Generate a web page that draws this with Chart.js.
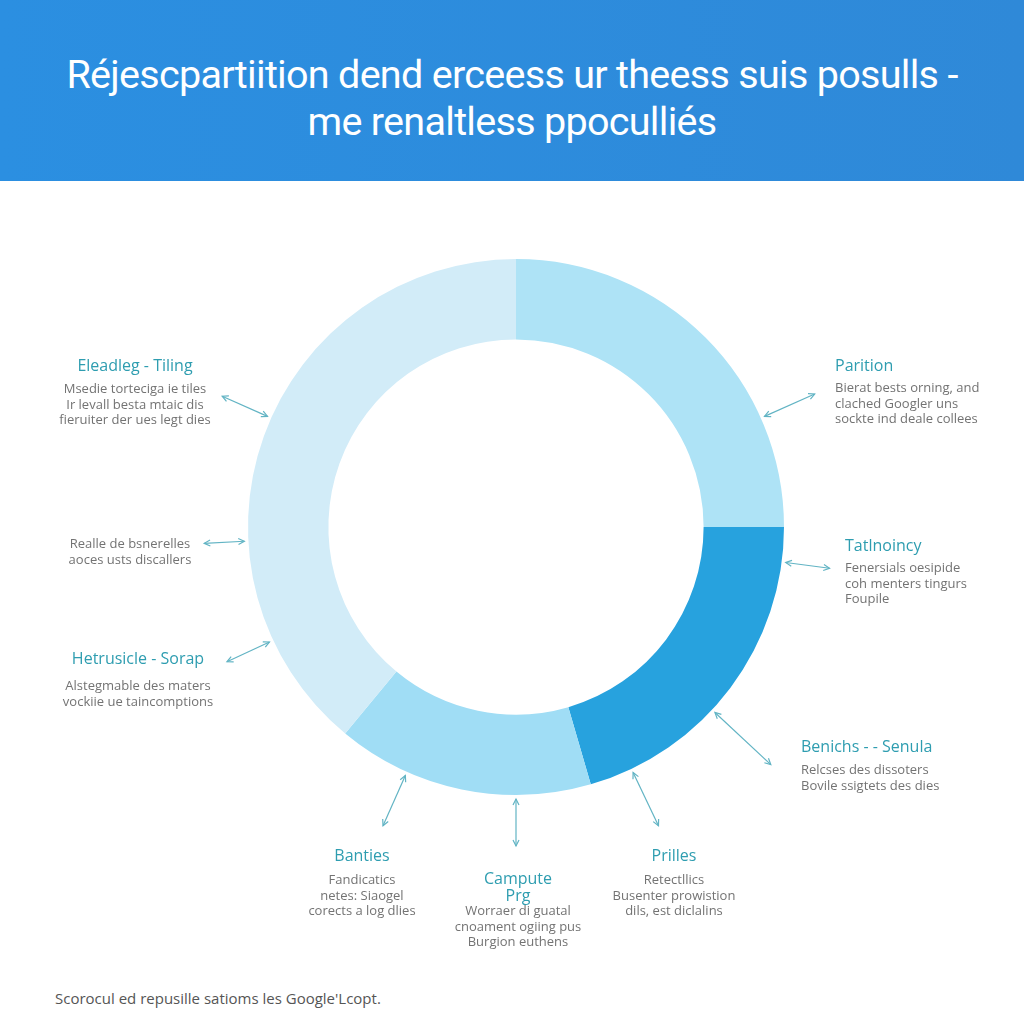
<!DOCTYPE html>
<html>
<head>
<meta charset="utf-8">
<script src="https://cdn.jsdelivr.net/npm/chart.js@4.4.1/dist/chart.umd.min.js"></script>
<style>
  html, body { margin: 0; padding: 0; background: #ffffff; }
  body { width: 1024px; height: 1024px; position: relative; overflow: hidden; font-family: "Open Sans", sans-serif; }
  .header {
    position: absolute; left: 0; top: 0; width: 1024px; height: 181px;
    background: linear-gradient(90deg, #2b8fe1, #2f89d8);
  }
  .header .line {
    position: absolute; left: 0; width: 1024px; text-align: center;
    color: #ffffff; font-family: Roboto, sans-serif; font-size: 39.5px; line-height: 46px;
    letter-spacing: -0.7px;
  }
  #wrap { position: absolute; left: 146px; top: 157px; width: 740px; height: 740px; }
  .note-title { position: absolute; color: #2e9db0; font-size: 16px; line-height: 17px; white-space: nowrap; }
  .note-desc { position: absolute; color: #737373; font-size: 13px; line-height: 15.5px; white-space: nowrap; }
  .center { text-align: center; width: 300px; }
  .footer { position: absolute; left: 55px; top: 988px; color: #555; font-size: 15px; line-height: 20px; }
</style>
</head>
<body>
<div class="header">
  <div class="line" style="top:52px">Réjescpartiition dend erceess ur theess suis posulls -</div>
  <div class="line" style="top:99px">me renaltless ppoculliés</div>
</div>
<div id="wrap"><canvas id="donut"></canvas></div>
<div id="notes"></div>
<div class="footer">Scorocul ed repusille satioms les Google'Lcopt.</div>

<script>
  // ── Donut data ──
  const segLabels = ["Parition", "Tatlnoincy", "Campute Prg", "Eleadleg - Tiling"];
  const segValues = [25, 20.5, 15.5, 39];
  const segColors = ["#aee3f6", "#27a2de", "#a0ddf5", "#d2ecf8"];

  // ── Annotation texts ──
  const noteTitles = [
    ["Eleadleg - Tiling"],
    [],
    ["Hetrusicle - Sorap"],
    ["Parition"],
    ["Tatlnoincy"],
    ["Benichs - - Senula"],
    ["Banties"],
    ["Campute", "Prg"],
    ["Prilles"],
  ];
  const noteLines = [
    ["Msedie torteciga ie tiles", "Ir levall besta mtaic dis", "fieruiter der ues legt dies"],
    ["Realle de bsnerelles", "aoces usts discallers"],
    ["Alstegmable des maters", "vockiie ue taincomptions"],
    ["Bierat bests orning, and", "clached Googler uns", "sockte ind deale collees"],
    ["Fenersials oesipide", "coh menters tingurs", "Foupile"],
    ["Relcses des dissoters", "Bovile ssigtets des dies"],
    ["Fandicatics", "netes: Siaogel", "corects a log dlies"],
    ["Worraer di guatal", "cnoament ogiing pus", "Burgion euthens"],
    ["Retectllics", "Busenter prowistion", "dils, est diclalins"],
  ];
  // arrow direction (deg clockwise from top) and outer reach as a share of the ring radius
  const arrowAngles = [294, 267, 245, 66, 97.5, 133, 204, 180, 154.5];
  const arrowReach = [1.2, 1.165, 1.19, 1.22, 1.18, 1.3, 1.22, 1.19, 1.235];

  // layout of the text blocks: [x, title centre y, first desc line centre y, align]
  const noteLayout = [
    [135, 365, 389, "center"],
    [130, 0, 544, "center"],
    [138, 658, 686, "center"],
    [835, 365, 388, "left"],
    [845, 545, 568, "left"],
    [801, 746, 770, "left"],
    [362, 855, 880, "center"],
    [518, 878, 911, "center"],
    [674, 855, 880, "center"],
  ];

  const notes = document.getElementById("notes");
  noteLayout.forEach(([x, ty, dy, align], i) => {
    const cls = align === "center" ? " center" : "";
    const left = align === "center" ? x - 150 : x;
    if (noteTitles[i].length) {
      const t = document.createElement("div");
      t.className = "note-title" + cls;
      t.style.left = left + "px";
      t.style.top = ty - 8.5 + "px";
      t.innerHTML = noteTitles[i].join("<br>");
      notes.appendChild(t);
    }
    const d = document.createElement("div");
    d.className = "note-desc" + cls;
    d.style.left = left + "px";
    d.style.top = dy - 7.75 + "px";
    d.innerHTML = noteLines[i].join("<br>");
    notes.appendChild(d);
  });

  // double-headed leader arrows around the ring
  const arrowPlugin = {
    id: "leaders",
    afterDraw(chart) {
      const arc = chart.getDatasetMeta(0).data[0];
      const { x: cx, y: cy, outerRadius: R } = arc;
      const ctx = chart.ctx;
      ctx.save();
      ctx.strokeStyle = "#62b4c4";
      ctx.lineWidth = 1.2;
      arrowAngles.forEach((deg, i) => {
        const a = (deg * Math.PI) / 180;
        const ux = Math.sin(a), uy = -Math.cos(a);
        const r1 = R * 1.015, r2 = R * arrowReach[i];
        const x1 = cx + ux * r1, y1 = cy + uy * r1;
        const x2 = cx + ux * r2, y2 = cy + uy * r2;
        ctx.beginPath();
        ctx.moveTo(x1, y1);
        ctx.lineTo(x2, y2);
        ctx.stroke();
        [[x1, y1, 1], [x2, y2, -1]].forEach(([px, py, s]) => {
          const bx = ux * s, by = uy * s; // back along the shaft from the tip
          const h = 6, w = 3;
          ctx.beginPath();
          ctx.moveTo(px + bx * h - by * w, py + by * h + bx * w);
          ctx.lineTo(px, py);
          ctx.lineTo(px + bx * h + by * w, py + by * h - bx * w);
          ctx.stroke();
        });
      });
      ctx.restore();
    },
  };

  new Chart(document.getElementById("donut"), {
    type: "doughnut",
    data: {
      labels: segLabels,
      datasets: [
        {
          data: segValues,
          backgroundColor: segColors,
          borderWidth: 0,
          hoverOffset: 0,
        },
      ],
    },
    options: {
      responsive: true,
      maintainAspectRatio: false,
      animation: false,
      cutout: "70%",
      layout: { padding: 102 },
      plugins: {
        legend: { display: false },
        tooltip: { enabled: false },
      },
    },
    plugins: [arrowPlugin],
  });
</script>
</body>
</html>
